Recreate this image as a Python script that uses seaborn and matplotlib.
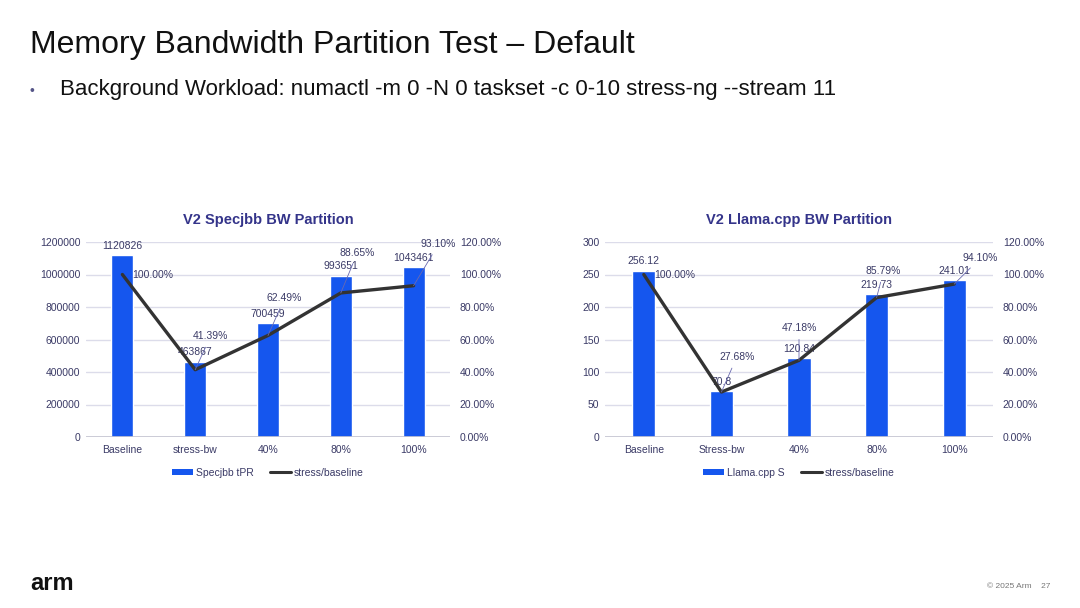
import matplotlib
matplotlib.use("Agg")
import matplotlib.pyplot as plt
import seaborn as sns
import numpy as np
from matplotlib.lines import Line2D
from matplotlib.patches import Patch
from matplotlib.ticker import FuncFormatter, MultipleLocator

# ---- data ----
spec_cats = ["Baseline", "stress-bw", "40%", "80%", "100%"]
spec_tpr = [1120826, 463867, 700459, 993651, 1043461]
spec_ratio = [100.00, 41.39, 62.49, 88.65, 93.10]

llama_cats = ["Baseline", "Stress-bw", "40%", "80%", "100%"]
llama_s = [256.12, 70.8, 120.84, 219.73, 241.01]
llama_ratio = [100.00, 27.68, 47.18, 85.79, 94.10]

sns.set_theme(style="white")
plt.rcParams["font.family"] = ["Liberation Sans", "DejaVu Sans"]

BAR = "#1556ee"
LINE = "#333333"
TXT = "#3a3a66"
TITLE = "#34348a"
GRID = "#dcdcea"

fig = plt.figure(figsize=(10.8, 6.08), dpi=100)

fig.text(30 / 1080, 1 - 45 / 608, "Memory Bandwidth Partition Test \u2013 Default",
         fontsize=23, color="#111111", va="center", ha="left")
fig.text(30 / 1080, 1 - 91 / 608, "\u2022", fontsize=10, color="#555588", va="center", ha="left")
fig.text(60 / 1080, 1 - 90 / 608,
         "Background Workload: numactl -m 0 -N 0 taskset -c 0-10 stress-ng --stream 11",
         fontsize=16, color="#111111", va="center", ha="left")
fig.text(30 / 1080, 1 - 583 / 608, "arm", fontsize=17, color="#111111",
         va="center", ha="left", fontweight="bold")
fig.text(1050 / 1080, 1 - 586 / 608, "\u00a9 2025 Arm    27", fontsize=6,
         color="#777777", va="center", ha="right")


def make_chart(rect, cats, vals, ratios, ymax, ystep, title, bar_label, val_fmt,
               pct_offsets):
    ax = fig.add_axes(rect)
    sns.barplot(x=cats, y=vals, ax=ax, color=BAR, width=0.3, saturation=1)
    ax2 = ax.twinx()
    sns.pointplot(x=cats, y=ratios, ax=ax2, color=LINE, markers="", linestyles="-",
                  errorbar=None)
    for l in ax2.lines:
        l.set_linewidth(2.4)
    ax.set_xlim(-0.5, 4.5)
    ax.set_ylim(0, ymax)
    ax2.set_ylim(0, 120)
    ax.yaxis.set_major_locator(MultipleLocator(ystep))
    ax2.yaxis.set_major_locator(MultipleLocator(20))
    ax.yaxis.set_major_formatter(FuncFormatter(lambda v, p: f"{int(round(v))}"))
    ax2.yaxis.set_major_formatter(FuncFormatter(lambda v, p: f"{v:.2f}%"))
    ax.grid(axis="y", color=GRID, linewidth=1)
    ax.set_axisbelow(True)
    for a in (ax, ax2):
        for s in a.spines.values():
            s.set_visible(False)
        a.set_xlabel("")
        a.set_ylabel("")
    ax.axhline(0, color="#c4c4d0", linewidth=1.2, zorder=1)
    ax.tick_params(axis="y", length=0, pad=4, labelsize=7.5, labelcolor=TXT)
    ax2.tick_params(axis="y", length=0, pad=7, labelsize=7.5, labelcolor=TXT)
    ax.tick_params(axis="x", length=0, pad=6, labelsize=7.5, labelcolor=TXT)
    ax.set_xticks(range(len(cats)))
    ax.set_xticklabels(cats)
    ax.set_title(title, fontsize=10.5, color=TITLE, fontweight="bold", pad=13)
    for i, v in enumerate(vals):
        ax.annotate(val_fmt(v), (i, v), xytext=(0, 3), textcoords="offset points",
                    ha="center", va="bottom", fontsize=7.5, color=TXT)
    for i, r in enumerate(ratios):
        dx, dy = pct_offsets[i]
        ap = None
        if dy != 0:
            ap = dict(arrowstyle="-", color="#6a6ab0", linewidth=0.6, shrinkA=2, shrinkB=0)
        ax2.annotate(f"{r:.2f}%", (i, r), xytext=(dx, dy), textcoords="offset points",
                     ha="center", va="center", fontsize=7.5, color=TXT, arrowprops=ap)
    handles = [Patch(facecolor=BAR, edgecolor="none"),
               Line2D([0], [0], color=LINE, linewidth=2.2)]
    ax.legend(handles, [bar_label, "stress/baseline"], loc="upper center",
              bbox_to_anchor=(0.5, -0.11), ncol=2, frameon=False, fontsize=7.5,
              labelcolor=TXT, handlelength=2.0, handleheight=0.6, columnspacing=1.5,
              handletextpad=0.3)
    return ax


fig_bottom = 1 - 437 / 608
fig_h = (437 - 242) / 608

make_chart([86 / 1080, fig_bottom, (450 - 86) / 1080, fig_h], spec_cats, spec_tpr,
           spec_ratio, 1200000, 200000, "V2 Specjbb BW Partition", "Specjbb tPR",
           lambda v: f"{v}",
           [(22, 0), (11, 24), (12, 27), (12, 29), (18, 30)])

make_chart([605 / 1080, fig_bottom, (993 - 605) / 1080, fig_h], llama_cats, llama_s,
           llama_ratio, 300, 50, "V2 Llama.cpp BW Partition", "Llama.cpp S",
           lambda v: f"{v:g}",
           [(22, 0), (11, 25), (0, 23), (5, 19), (19, 19)])

fig.savefig("out.png", dpi=100, facecolor="white")
